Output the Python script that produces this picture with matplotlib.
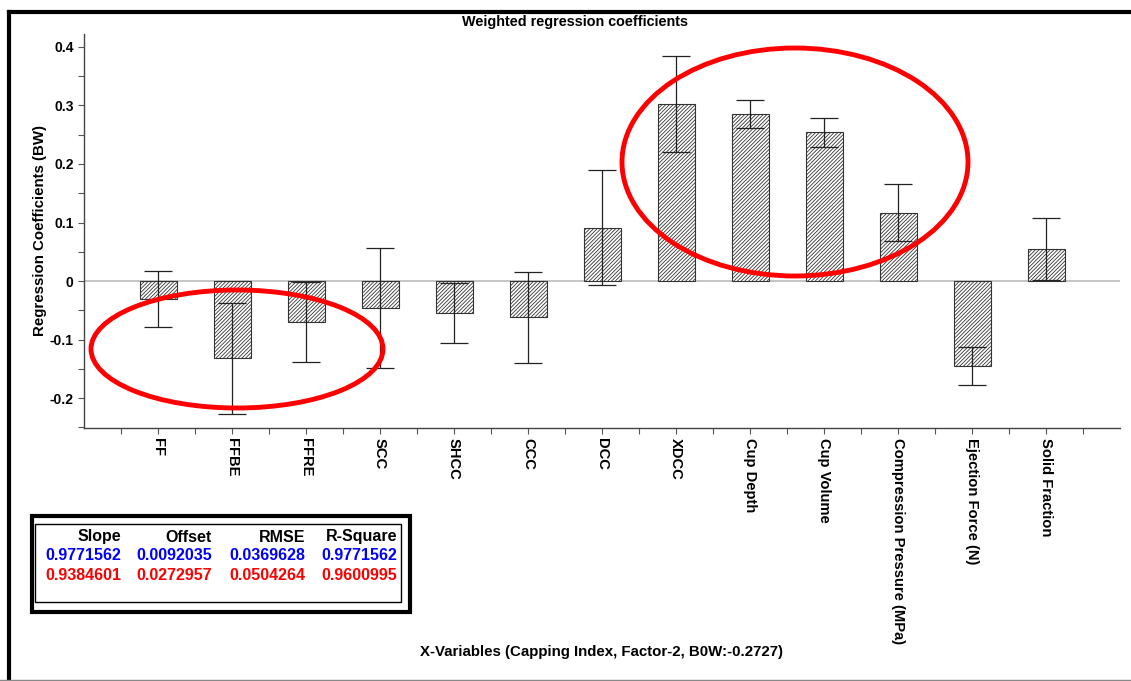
import numpy as np
import matplotlib.pyplot as plt
from matplotlib.patches import Ellipse, Rectangle

variables = ["FF", "FFBE", "FFRE", "SCC", "SHCC", "CCC", "DCC", "XDCC", "Cup Depth",
             "Cup Volume", "Compression Pressure (MPa)", "Ejection Force (N)", "Solid Fraction"]
coef = [-0.031, -0.132, -0.070, -0.046, -0.055, -0.062, 0.091, 0.302, 0.286, 0.254, 0.117, -0.145, 0.054]
err = [0.048, 0.095, 0.069, 0.102, 0.051, 0.078, 0.098, 0.082, 0.024, 0.025, 0.048, 0.033, 0.053]

stat_cols = ["Slope", "Offset", "RMSE", "R-Square"]
stats_cal = ["0.9771562", "0.0092035", "0.0369628", "0.9771562"]
stats_val = ["0.9384601", "0.0272957", "0.0504264", "0.9600995"]

plt.rcParams['hatch.linewidth'] = 0.6
plt.rcParams['font.family'] = ['Liberation Sans', 'DejaVu Sans']

W, H = 1131, 681
fig = plt.figure(figsize=(W / 100, H / 100), dpi=100)
ax = fig.add_axes([84 / W, 1 - 428 / H, (1120 - 84) / W, (428 - 34) / H])

x = np.arange(len(variables))
ax.bar(x, coef, width=0.5, color="white", edgecolor="#333333", hatch="/////////", linewidth=0.8)
ax.errorbar(x, coef, yerr=err, fmt="none", ecolor="#222222", elinewidth=0.9, capsize=10, capthick=0.9)
ax.axhline(0, color="#bbbbbb", linewidth=1.2, zorder=0)

ax.set_xlim(-1, 13)
ax.set_ylim(-0.251, 0.422)
ax.set_yticks([-0.2, -0.1, 0, 0.1, 0.2, 0.3, 0.4])
ax.set_yticklabels(["-0.2", "-0.1", "0", "0.1", "0.2", "0.3", "0.4"], fontweight="bold", fontsize=10)
ax.set_yticks(np.arange(-0.25, 0.42, 0.05), minor=True)
ax.set_xticks(x)
ax.set_xticks(np.arange(-0.5, 13, 1), minor=True)
ax.set_xticklabels(variables, rotation=-90, fontweight="bold", fontsize=10.6, va="top")
ax.tick_params(axis="both", which="both", color="#555555", length=4, width=0.8)
ax.tick_params(axis="x", pad=3)
for s in ["top", "right"]:
    ax.spines[s].set_visible(False)
for s in ["left", "bottom"]:
    ax.spines[s].set_color("#444444")
    ax.spines[s].set_linewidth(1.0)

ax.set_ylabel("Regression Coefficients (BW)", fontweight="bold", fontsize=10.8)
ax.yaxis.set_label_coords(-0.036, 0.5)
fig.text(575 / W, 1 - 22 / H, "Weighted regression coefficients", ha="center", va="center",
         fontweight="bold", fontsize=10.4)
fig.text(601 / W, 1 - 652 / H, "X-Variables (Capping Index, Factor-2, B0W:-0.2727)", ha="center",
         va="center", fontweight="bold", fontsize=10.8)

# outer frame
fig.add_artist(plt.Line2D([9 / W, 9 / W], [0, 1 - 12 / H], color="black", linewidth=3, transform=fig.transFigure))
fig.add_artist(plt.Line2D([9 / W, 1], [1 - 12 / H, 1 - 12 / H], color="black", linewidth=3, transform=fig.transFigure))
fig.add_artist(plt.Line2D([0, 1], [1 / H, 1 / H], color="#888888", linewidth=1, transform=fig.transFigure))

# stats table
fig.add_artist(Rectangle((32 / W, 1 - 612 / H), 378 / W, 96 / H, fill=False, edgecolor="black",
                         linewidth=3, transform=fig.transFigure))
fig.add_artist(Rectangle((35 / W, 1 - 602 / H), 366 / W, 78 / H, fill=False, edgecolor="black",
                         linewidth=1, transform=fig.transFigure))
col_x = [121, 212, 305, 397]
for cx, name, v1, v2 in zip(col_x, stat_cols, stats_cal, stats_val):
    fig.text(cx / W, 1 - 537 / H, name, ha="right", va="center", fontsize=11.5, fontweight="bold")
    fig.text(cx / W, 1 - 556 / H, v1, ha="right", va="center", fontsize=11.5, fontweight="bold",
             color="#0000ff")
    fig.text(cx / W, 1 - 575 / H, v2, ha="right", va="center", fontsize=11.5, fontweight="bold",
             color="#ff0000")

# highlight ellipses
fig.add_artist(Ellipse((237 / W, 1 - 349 / H), 292 / W, 118 / H, fill=False, edgecolor="#ff0000",
                       linewidth=3.5, transform=fig.transFigure))
fig.add_artist(Ellipse((795 / W, 1 - 162 / H), 346 / W, 228 / H, fill=False, edgecolor="#ff0000",
                       linewidth=3.5, transform=fig.transFigure))

fig.savefig("out.png", dpi=100)
